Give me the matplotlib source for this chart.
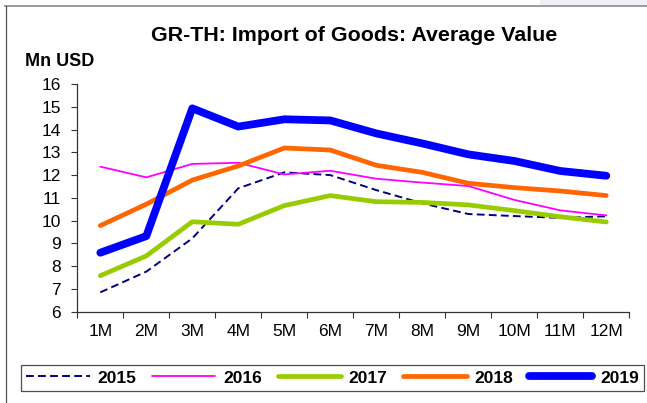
import matplotlib
matplotlib.use("Agg")
import matplotlib.pyplot as plt
from matplotlib.lines import Line2D
from matplotlib.patches import Rectangle
import numpy as np

plt.rcParams['font.family'] = ['Liberation Sans', 'DejaVu Sans']

months = ["1M", "2M", "3M", "4M", "5M", "6M", "7M", "8M", "9M", "10M", "11M", "12M"]
y2015 = [6.85, 7.76, 9.22, 11.42, 12.12, 12.00, 11.34, 10.76, 10.29, 10.20, 10.12, 10.19]
y2016 = [12.37, 11.90, 12.49, 12.54, 12.03, 12.19, 11.84, 11.67, 11.52, 10.91, 10.45, 10.23]
y2017 = [7.58, 8.45, 9.95, 9.84, 10.66, 11.10, 10.83, 10.80, 10.69, 10.44, 10.17, 9.94]
y2018 = [9.78, 10.72, 11.78, 12.40, 13.19, 13.10, 12.43, 12.12, 11.64, 11.45, 11.30, 11.10]
y2019 = [8.59, 9.32, 14.93, 14.13, 14.45, 14.40, 13.83, 13.39, 12.91, 12.62, 12.18, 11.97]
y_ticks = list(range(6, 17))

W, H = 647, 403
fig = plt.figure(figsize=(W / 100, H / 100), dpi=100)
fig.patch.set_facecolor("white")

# slide frame lines along top and left edges
fig.add_artist(Rectangle((540 / W, 1 - 5 / H), 107 / W, 5 / H, transform=fig.transFigure,
                         facecolor="#eef0f8", edgecolor="none", zorder=0))
fig.add_artist(Line2D([5 / W, 1], [1 - 5.5 / H, 1 - 5.5 / H], transform=fig.transFigure,
                      color="#8a8a8a", lw=1.2))
fig.add_artist(Line2D([5.5 / W, 5.5 / W], [1 / H, 1 - 5.5 / H], transform=fig.transFigure,
                      color="#555555", lw=0.9))

left, right = 77.3 / W, 629.3 / W
bottom, top = 1 - 311.7 / H, 1 - 84 / H
ax = fig.add_axes([left, bottom, right - left, top - bottom])

x = np.arange(len(months))
series = [
    ("2015", y2015, dict(color="#000080", lw=1.4, ls=(0, (4, 2.2)))),
    ("2016", y2016, dict(color="#ff00ff", lw=1.3)),
    ("2017", y2017, dict(color="#99cc00", lw=3.4)),
    ("2018", y2018, dict(color="#ff6600", lw=3.4)),
    ("2019", y2019, dict(color="#0000ff", lw=5.6)),
]
for label, vals, style in series:
    ax.plot(x, vals, label=label, solid_capstyle="round", solid_joinstyle="round",
            dash_capstyle="butt", **style)

ax.set_xlim(-0.5, len(months) - 0.5)
ax.set_ylim(6, 16)
ax.set_yticks(y_ticks)
ax.set_yticklabels([str(t) for t in y_ticks], fontsize=12.5)
ax.set_xticks(x)
ax.set_xticklabels(months, fontsize=12.5)
ax.set_xticks(np.arange(-0.5, len(months)), minor=True)
ax.tick_params(axis="x", which="major", length=0, pad=9)
ax.tick_params(axis="x", which="minor", length=4, width=0.8, direction="out", color="#333333")
ax.tick_params(axis="y", which="major", length=4, width=0.8, direction="out", pad=8, color="#333333")
for side in ("top", "right"):
    ax.spines[side].set_visible(False)
for side in ("left", "bottom"):
    ax.spines[side].set_linewidth(0.9)
    ax.spines[side].set_color("#333333")

fig.text(354 / W, 1 - 35.5 / H, "GR-TH: Import of Goods: Average Value",
         ha="center", va="center", fontsize=15.4, fontweight="bold")
fig.text(25 / W, 1 - 62 / H, "Mn USD", ha="left", va="center", fontsize=13, fontweight="bold")

leg = fig.legend(loc="center", bbox_to_anchor=(332.5 / W, 1 - 378 / H), ncol=5,
                 prop=dict(weight="bold", size=12.5), handlelength=3.65, handletextpad=0.45,
                 columnspacing=0.9, frameon=True, fancybox=False, borderpad=0.3,
                 borderaxespad=0)
leg.get_frame().set_edgecolor("#222222")
leg.get_frame().set_linewidth(0.9)

fig.savefig("out.png", dpi=100)
